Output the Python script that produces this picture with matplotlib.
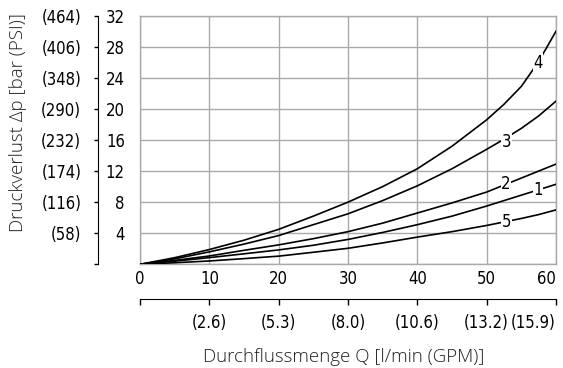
import matplotlib
matplotlib.use("Agg")
import matplotlib.pyplot as plt

# flow rate in l/min, pressure drop in bar
flow = [0, 5, 10, 15, 20, 25, 30, 35, 40, 45, 50, 52.5, 55, 57.5, 60]
curve_4 = [0, 0.85, 1.9, 3.1, 4.5, 6.2, 8.0, 10.0, 12.3, 15.2, 18.6, 20.6, 22.9, 26.1, 30.0]
curve_3 = [0, 0.7, 1.6, 2.6, 3.7, 5.1, 6.5, 8.2, 10.1, 12.3, 14.8, 16.1, 17.5, 19.1, 21.0]
curve_2 = [0, 0.5, 1.07, 1.8, 2.5, 3.3, 4.2, 5.3, 6.6, 7.9, 9.3, 10.2, 11.1, 12.0, 12.9]
curve_1 = [0, 0.4, 0.86, 1.35, 1.85, 2.45, 3.2, 4.1, 5.1, 6.2, 7.5, 8.2, 8.9, 9.6, 10.3]
curve_5 = [0, 0.2, 0.43, 0.73, 1.05, 1.55, 2.06, 2.75, 3.5, 4.2, 5.0, 5.45, 5.9, 6.4, 7.0]

curves = {'4': curve_4, '3': curve_3, '2': curve_2, '1': curve_1, '5': curve_5}
label_pos = {'4': (57.4, 25.9), '3': (52.9, 15.8), '2': (52.8, 10.3),
             '1': (57.4, 9.5), '5': (52.9, 5.4)}

bar_ticks = [0, 4, 8, 12, 16, 20, 24, 28, 32]
psi_labels = ['', '(58)', '(116)', '(174)', '(232)', '(290)', '(348)', '(406)', '(464)']
q_ticks = [0, 10, 20, 30, 40, 50, 60]
gpm_labels = ['', '(2.6)', '(5.3)', '(8.0)', '(10.6)', '(13.2)', '(15.9)']

tick_font = dict(family='DejaVu Sans', stretch='condensed', fontsize=12)
W, H = 563, 368

fig = plt.figure(figsize=(W / 100, H / 100), dpi=100)
left, right, top, bottom = 140 / W, 556 / W, 1 - 15.7 / H, 1 - 264.3 / H
ax = fig.add_axes([left, bottom, right - left, top - bottom])

for k, vals in curves.items():
    ax.plot(flow, vals, color='black', lw=1.2, zorder=3)
    x, y = label_pos[k]
    ax.text(x, y, k, ha='center', va='center', zorder=4,
            bbox=dict(fc='white', ec='none', pad=0.5), **tick_font)

ax.set_xlim(0, 60)
ax.set_ylim(0, 32)
ax.set_xticks(q_ticks)
ax.set_xticklabels([str(q) for q in q_ticks], **tick_font)
ax.get_xticklabels()[-1].set_horizontalalignment('right')
ax.set_yticks(bar_ticks)
ax.set_yticklabels([''] + [str(b) for b in bar_ticks[1:]], **tick_font)
ax.tick_params(length=0)
ax.tick_params(axis='x', pad=4)
ax.tick_params(axis='y', pad=11)
ax.grid(True, color='#aaaaaa', lw=1)
for s in ax.spines.values():
    s.set_color('#aaaaaa')
    s.set_linewidth(1)

# PSI scale on its own line
ax2 = fig.add_axes([98 / W, bottom, 0.001, top - bottom])
ax2.set_ylim(0, 32)
ax2.set_xticks([])
ax2.set_yticks(bar_ticks)
ax2.set_yticklabels(psi_labels, **tick_font)
ax2.tick_params(axis='y', direction='out', length=3, width=1, pad=9)
for s in ['top', 'right', 'bottom']:
    ax2.spines[s].set_visible(False)
ax2.patch.set_visible(False)

# GPM scale below
ax3 = fig.add_axes([left, 1 - 299 / H, right - left, 0.001])
ax3.set_xlim(0, 60)
ax3.set_yticks([])
ax3.set_xticks(q_ticks)
ax3.set_xticklabels(gpm_labels, **tick_font)
ax3.get_xticklabels()[-1].set_horizontalalignment('right')
ax3.tick_params(axis='x', direction='out', length=4, width=1, pad=7)
for s in ['top', 'right', 'left']:
    ax3.spines[s].set_visible(False)
ax3.patch.set_visible(False)

fig.text(344 / W, 1 - 357 / H, 'Durchflussmenge Q [l/min (GPM)]', ha='center', va='center',
         fontsize=13.5, family=['Open Sans', 'DejaVu Sans'], fontweight='light', color='#222222')
fig.text(18 / W, 1 - 123 / H, 'Druckverlust Δp [bar (PSI)]', ha='center', va='center',
         rotation=90, fontsize=13.5, family=['Open Sans', 'DejaVu Sans'], fontweight='light',
         color='#222222')

fig.savefig('out.png', dpi=100)
